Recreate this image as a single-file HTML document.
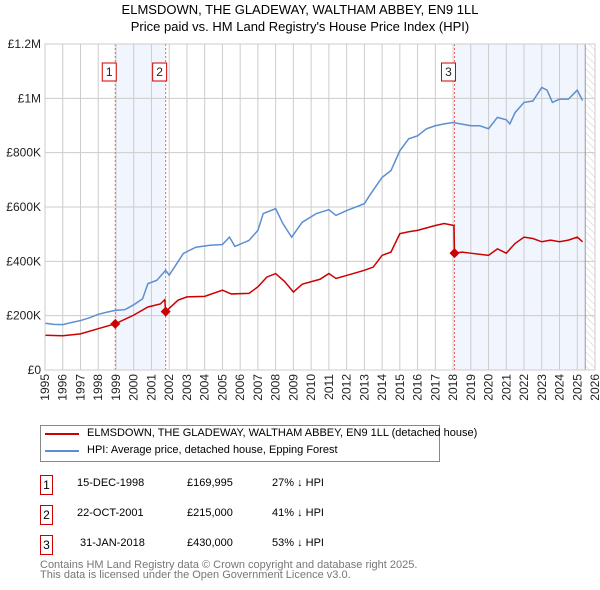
<!DOCTYPE html>
<html><head><meta charset="utf-8"><style>
body{margin:0;background:#fff;font-family:"Liberation Sans","DejaVu Sans",sans-serif;}
#wrap{position:relative;width:600px;height:590px;overflow:hidden}
.t{position:absolute;font-size:12px;color:#000;white-space:nowrap}
.box{position:absolute;border:1px solid #c00;width:11px;height:18px;font-size:12px;text-align:center;line-height:18px}
</style></head><body><div id="wrap">
<div class="t" style="left:0;width:600px;text-align:center;top:2px;font-size:13px">ELMSDOWN, THE GLADEWAY, WALTHAM ABBEY, EN9 1LL</div>
<div class="t" style="left:0;width:600px;text-align:center;top:19px;font-size:13px">Price paid vs. HM Land Registry's House Price Index (HPI)</div>
<svg id="svg" width="600" height="420" style="position:absolute;left:0;top:0"></svg>
<div style="position:absolute;left:40px;top:425px;width:398px;height:35px;border:1px solid #888"></div>
<div style="position:absolute;left:45px;top:433px;width:34px;height:2px;background:#c00"></div>
<div class="t" style="left:87px;top:427px;font-size:11px">ELMSDOWN, THE GLADEWAY, WALTHAM ABBEY, EN9 1LL (detached house)</div>
<div style="position:absolute;left:45px;top:450px;width:34px;height:2px;background:#5b8fd0"></div>
<div class="t" style="left:87px;top:444px;font-size:11px">HPI: Average price, detached house, Epping Forest</div>
<div class="box" style="left:40px;top:475px">1</div>
<div class="t" style="left:77px;top:477px;font-size:11px">15-DEC-1998</div>
<div class="t" style="left:187px;top:477px;font-size:11px">£169,995</div>
<div class="t" style="left:272px;top:477px;font-size:11px">27% ↓ HPI</div>
<div class="box" style="left:40px;top:505px">2</div>
<div class="t" style="left:77px;top:507px;font-size:11px">22-OCT-2001</div>
<div class="t" style="left:187px;top:507px;font-size:11px">£215,000</div>
<div class="t" style="left:272px;top:507px;font-size:11px">41% ↓ HPI</div>
<div class="box" style="left:40px;top:535px">3</div>
<div class="t" style="left:80px;top:537px;font-size:11px">31-JAN-2018</div>
<div class="t" style="left:187px;top:537px;font-size:11px">£430,000</div>
<div class="t" style="left:272px;top:537px;font-size:11px">53% ↓ HPI</div>
<div class="t" style="left:40px;top:560px;font-size:11px;color:#777;line-height:10px">Contains HM Land Registry data © Crown copyright and database right 2025.<br>This data is licensed under the Open Government Licence v3.0.</div>
</div>
<script>
const hpiYears=[1995,1995.5,1996,1996.5,1997,1997.5,1998,1998.5,1999,1999.5,2000,2000.5,2000.8,2001.3,2001.8,2002,2002.8,2003.5,2004.3,2005,2005.4,2005.7,2006.5,2007,2007.3,2008,2008.4,2008.9,2009.5,2010.3,2011,2011.4,2012,2013,2013.3,2014,2014.5,2015,2015.5,2016,2016.5,2017,2017.5,2018,2018.5,2019,2019.5,2020,2020.5,2021,2021.2,2021.5,2022,2022.5,2023,2023.3,2023.6,2024,2024.5,2025,2025.3];
const hpiValues=[172,168,167,175,182,192,205,213,220,222,240,262,318,330,367,349,429,452,459,462,489,455,477,514,576,594,540,489,544,576,590,569,587,612,643,709,734,807,851,862,888,899,906,911,905,899,899,888,930,921,906,948,985,990,1040,1030,985,997,997,1030,992];
const priceYears=[1995,1996,1997,1998,1998.96,2000,2000.8,2001.5,2001.75,2001.8,2002.5,2003,2004,2005,2005.5,2006.5,2007,2007.5,2008,2008.5,2009,2009.5,2010.5,2011,2011.4,2012,2013,2013.5,2014,2014.5,2015,2015.5,2016,2017,2017.5,2018.05,2018.08,2018.5,2019,2020,2020.5,2021,2021.5,2022,2022.5,2023,2023.5,2024,2024.5,2025,2025.3];
const priceValues=[128,126,133,152,170,202,232,243,259,215,257,269,271,294,280,282,306,342,355,326,287,316,334,355,337,348,367,379,422,434,502,509,514,532,539,532,430,434,430,422,446,430,466,489,484,472,478,472,478,489,472];
const saleYears=[1998.96,2001.8,2018.08];
const saleValues=[170,215,430];
const saleLabels=["1","2","3"];
const yTicks=[0,200,400,600,800,1000,1200];
const yTickLabels=["£0","£200K","£400K","£600K","£800K","£1M","£1.2M"];
const xTicks=[1995,1996,1997,1998,1999,2000,2001,2002,2003,2004,2005,2006,2007,2008,2009,2010,2011,2012,2013,2014,2015,2016,2017,2018,2019,2020,2021,2022,2023,2024,2025,2026];
const L=45,R=595,T=44,B=370;
const X=y=>L+(y-1995)/31*(R-L);
const Y=v=>B-v/1200*(B-T);
const svg=document.getElementById('svg');
const NS='http://www.w3.org/2000/svg';
function mk(tag,at){const e=document.createElementNS(NS,tag);for(const k in at)e.setAttribute(k,at[k]);svg.appendChild(e);return e;}
let e;
e=mk('defs',{});e.innerHTML='<pattern id="hatch" width="5" height="5" patternUnits="userSpaceOnUse" patternTransform="rotate(-45)"><line x1="0" y1="0" x2="0" y2="5" stroke="#ccc" stroke-width="1"/></pattern>';
e=mk('rect',{x:X(saleYears[0]),y:T,width:X(saleYears[1])-X(saleYears[0]),height:B-T,fill:'#eef3fc',opacity:0.8});


e=mk('rect',{x:X(saleYears[2]),y:T,width:X(2025.45)-X(saleYears[2]),height:B-T,fill:'#eef3fc',opacity:0.8});


e=mk('rect',{x:X(2025.45),y:T,width:R-X(2025.45),height:B-T,fill:'url(#hatch)'});


xTicks.forEach(t=>{e=mk('line',{x1:X(t),x2:X(t),y1:T,y2:B,stroke:'#ccc','stroke-width':1});


const tx=X(t)+4,ty=B+4;
e=mk('text',{x:tx,y:ty,'text-anchor':'end','font-size':12,fill:'#222',transform:`rotate(-90 ${tx} ${ty})`});e.textContent=t;

});
yTicks.forEach((t,i)=>{e=mk('line',{x1:L,x2:R,y1:Y(t),y2:Y(t),stroke:'#ccc','stroke-width':1});


e=mk('text',{x:L-4,y:Y(t)+4,'text-anchor':'end','font-size':12,fill:'#222'});e.textContent=yTickLabels[i];

});
e=mk('line',{x1:X(2025.45),x2:X(2025.45),y1:T,y2:B,stroke:'#999'});


saleYears.forEach((s,i)=>{e=mk('line',{x1:X(s),x2:X(s),y1:T,y2:B,stroke:'#e66','stroke-width':1,'stroke-dasharray':'2,2'});

});
e=mk('polyline',{points:hpiYears.map((y,i)=>X(y)+','+Y(hpiValues[i])).join(' '),fill:'none',stroke:'#5b8fd0','stroke-width':1.5});


e=mk('polyline',{points:priceYears.map((y,i)=>X(y)+','+Y(priceValues[i])).join(' '),fill:'none',stroke:'#c00','stroke-width':1.5});


saleYears.forEach((s,i)=>{const cx=X(s),cy=Y(saleValues[i]);
e=mk('polygon',{points:`${cx},${cy-5} ${cx+5},${cy} ${cx},${cy+5} ${cx-5},${cy}`,fill:'#c00'});


e=mk('rect',{x:cx-13,y:63,width:14,height:18,fill:'#fff',stroke:'#c00'});


e=mk('text',{x:cx-6,y:76,'text-anchor':'middle','font-size':12,fill:'#222'});e.textContent=saleLabels[i];

});
e=mk('rect',{x:L,y:T,width:R-L,height:B-T,fill:'none',stroke:'#ccc'});


</script></body></html>
